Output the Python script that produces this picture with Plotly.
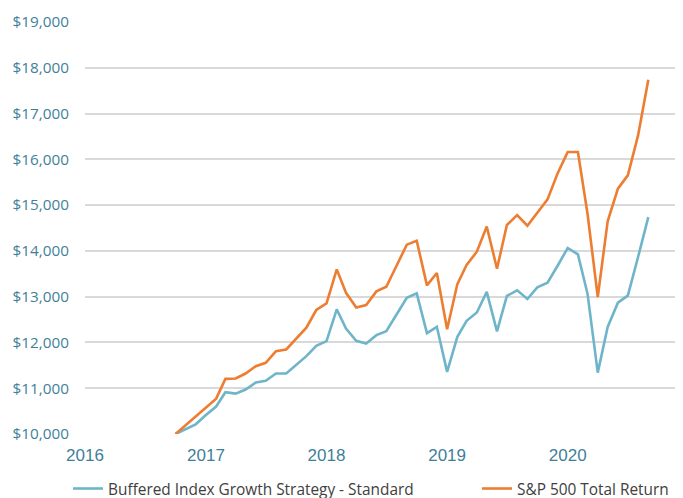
import pandas as pd
import plotly.graph_objects as go

# Monthly dates, Oct 2016 - Sep 2020
dates = pd.date_range("2016-10-01", periods=48, freq="MS")

buffered = [10000, 10109, 10212, 10416, 10599, 10912, 10883, 10971, 11124, 11161,
            11321, 11321, 11504, 11701, 11927, 12029, 12721, 12305, 12035, 11977,
            12159, 12247, 12611, 12976, 13071, 12203, 12341, 11357, 12123, 12473,
            12655, 13105, 12243, 13015, 13138, 12949, 13204, 13306, 13670, 14063,
            13923, 13065, 11341, 12338, 12869, 13022, 13866, 14738]

sp500 = [10000, 10190, 10390, 10580, 10772, 11204, 11212, 11321, 11482, 11555,
         11810, 11847, 12088, 12321, 12708, 12853, 13596, 13085, 12764, 12815,
         13115, 13217, 13676, 14136, 14223, 13246, 13516, 12290, 13275, 13691,
         13982, 14533, 13611, 14565, 14783, 14550, 14834, 15125, 15686, 16159,
         16159, 14812, 12993, 14645, 15358, 15649, 16523, 17738]

series_names = ["Buffered Index Growth Strategy - Standard", "S&P 500 Total Return"]
series_colors = ["#6FB5CA", "#ED7D31"]
legend_ids = ["legend", "legend2"]

year_ticks = ["2016-01-01", "2017-01-01", "2018-01-01", "2019-01-01", "2020-01-01"]
year_labels = ["2016", "2017", "2018", "2019", "2020"]
y_ticks = list(range(10000, 19001, 1000))
y_labels = ["${:,}".format(v) for v in y_ticks]

W, H = 675, 490  # page body has an 8px default margin

fig = go.Figure()
for name, vals, col, lg in zip(series_names, [buffered, sp500], series_colors, legend_ids):
    fig.add_trace(go.Scatter(
        x=dates, y=vals, mode="lines", name=name, legend=lg,
        line=dict(color=col, width=2.6), cliponaxis=False,
    ))

legend_common = dict(
    orientation="h", xref="container", yref="container",
    xanchor="left", y=9 / H, yanchor="middle",
    font=dict(family="Open Sans", size=15.4, color="#404040"),
    bgcolor="rgba(0,0,0,0)",
)

fig.update_layout(
    width=W, height=H,
    margin=dict(l=77, r=0, t=14, b=64, autoexpand=False),
    paper_bgcolor="white", plot_bgcolor="white",
    showlegend=True,
    legend=dict(x=60 / W, **legend_common),
    legend2=dict(x=469 / W, **legend_common),
    xaxis=dict(
        type="date", range=["2016-01-01", "2020-12-15"],
        tickvals=year_ticks, ticktext=year_labels,
        showgrid=False, zeroline=False, showline=False, ticks="",
        tickfont=dict(family="Liberation Sans, Arial", size=17, color="#3F7F99"),
        ticklabelstandoff=9,
    ),
    yaxis=dict(
        range=[10000, 19000],
        tickvals=y_ticks, ticktext=y_labels,
        showgrid=True, gridcolor="#D9D9D9", gridwidth=2,
        zeroline=False, showline=False, ticks="",
        tickfont=dict(family="Open Sans", size=15.3, color="#3F7F99"),
        ticklabelstandoff=15,
    ),
)

fig.write_html("out.html")
